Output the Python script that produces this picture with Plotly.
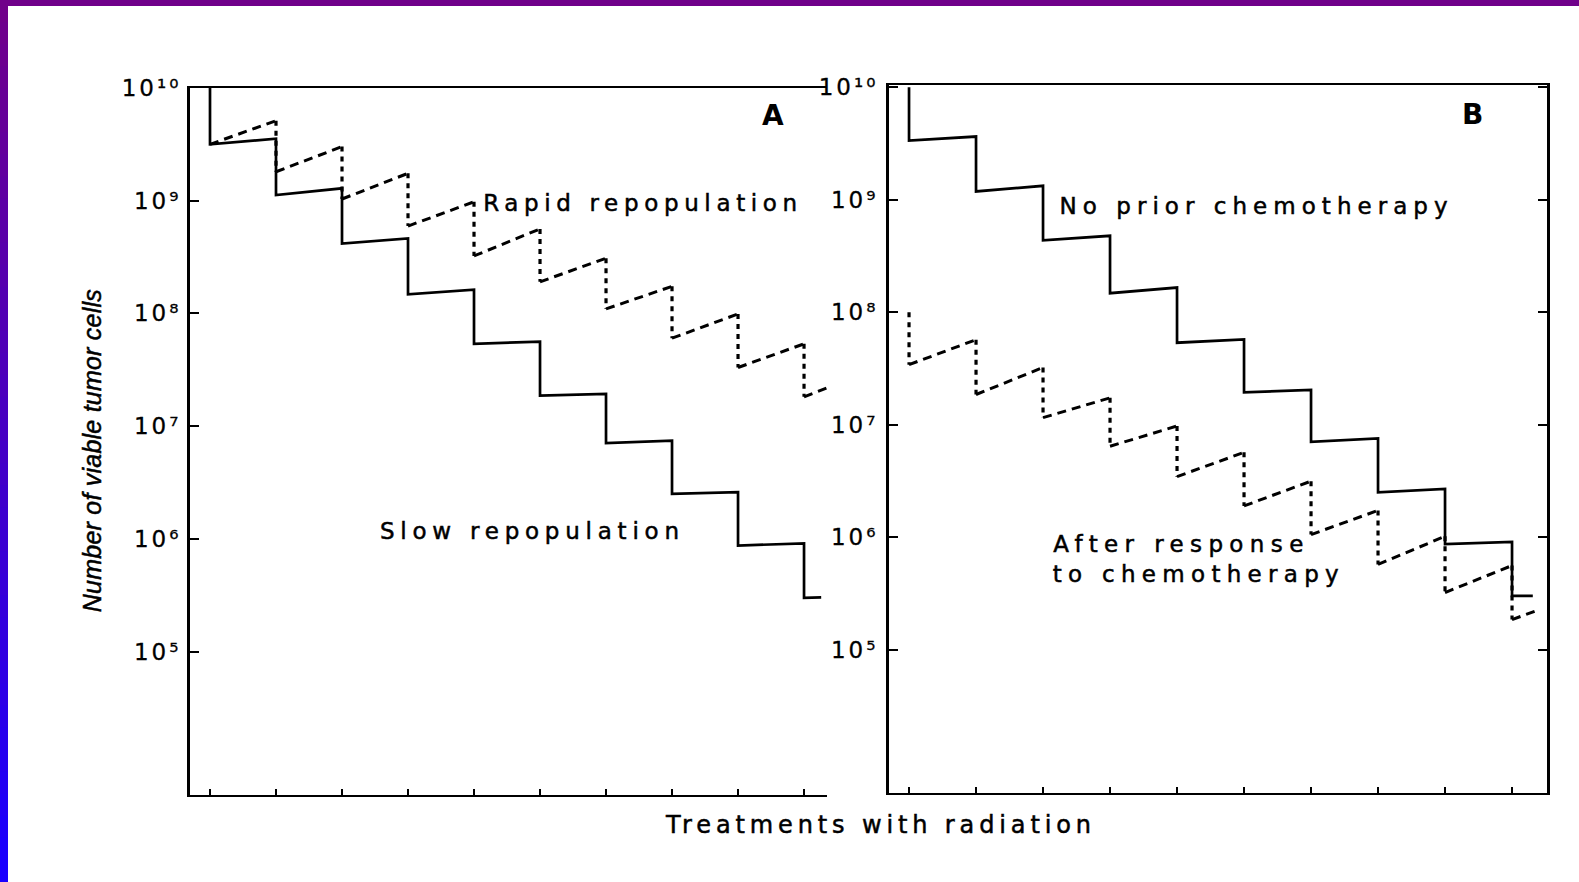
import json
import plotly.graph_objects as go

W, H = 1579, 882

# ---------------- data (log10 of number of viable tumor cells) ----------------
treatments = [1, 2, 3, 4, 5, 6, 7, 8, 9, 10]
ytick_vals = [1e5, 1e6, 1e7, 1e8, 1e9, 1e10]
ytick_text = ["10\u2075", "10\u2076", "10\u2077", "10\u2078", "10\u2079", "10\u00b9\u2070"]

# Panel A - slow repopulation (solid)
slow_pre = [10.0, 9.55, 9.11, 8.665, 8.21, 7.75, 7.285, 6.87, 6.415, 5.96]
slow_post = [9.50, 9.05, 8.62, 8.17, 7.73, 7.27, 6.85, 6.40, 5.94, 5.477]
slow_end = (10.26, 5.48)

# Panel A - rapid repopulation (dashed)
rapid_pre = [10.0, 9.71, 9.48, 9.243, 8.99, 8.75, 8.49, 8.24, 7.995, 7.73]
rapid_post = [9.50, 9.257, 9.015, 8.775, 8.51, 8.28, 8.04, 7.78, 7.52, 7.26]
rapid_end = (10.35, 7.34)

# Panel B - no prior chemotherapy (solid)
nochemo_pre = [10.0, 9.562, 9.124, 8.68, 8.22, 7.76, 7.31, 6.88, 6.43, 5.96]
nochemo_post = [9.527, 9.074, 8.64, 8.17, 7.73, 7.29, 6.85, 6.40, 5.94, 5.48]
nochemo_end = (10.31, 5.48)

# Panel B - after response to chemotherapy (dashed)
chemo_pre = [8.0, 7.757, 7.51, 7.24, 6.99, 6.756, 6.50, 6.24, 6.01, 5.75]
chemo_post = [7.535, 7.27, 7.064, 6.81, 6.54, 6.28, 6.025, 5.76, 5.51, 5.27]
chemo_end = (10.37, 5.35)


def staircase(pre, post, end):
    xs, ys = [], []
    for t, a, b in zip(treatments, pre, post):
        xs += [t, t]
        ys += [10 ** a, 10 ** b]
    xs.append(end[0])
    ys.append(10 ** end[1])
    return xs, ys


def sawtooth_parts(pre, post, end, skip_first_drop=False):
    """Returns (sloped segments, vertical drops) separated by None."""
    sx, sy, vx, vy = [], [], [], []
    n = len(treatments)
    for i in range(n):
        t = treatments[i]
        if not (skip_first_drop and i == 0):
            vx += [t, t, None]
            vy += [10 ** pre[i], 10 ** post[i], None]
        nx = treatments[i + 1] if i + 1 < n else end[0]
        ny = pre[i + 1] if i + 1 < n else end[1]
        sx += [t, nx, None]
        sy += [10 ** post[i], 10 ** ny, None]
    return sx, sy, vx, vy


fig = go.Figure()

SOLID = dict(color="black", width=2.7)
DASH = dict(color="black", width=3, dash="9px,6px")
DOT = dict(color="black", width=3.2, dash="5px,5px")

# Panel A
x, y = staircase(slow_pre, slow_post, slow_end)
fig.add_trace(go.Scatter(x=x, y=y, mode="lines", line=SOLID, xaxis="x", yaxis="y",
                         showlegend=False, hoverinfo="skip"))
sx, sy, vx, vy = sawtooth_parts(rapid_pre, rapid_post, rapid_end, skip_first_drop=True)
fig.add_trace(go.Scatter(x=sx, y=sy, mode="lines", line=DASH, xaxis="x", yaxis="y",
                         showlegend=False, hoverinfo="skip", connectgaps=False))
fig.add_trace(go.Scatter(x=vx, y=vy, mode="lines", line=DOT, xaxis="x", yaxis="y",
                         showlegend=False, hoverinfo="skip", connectgaps=False))

# Panel B
x, y = staircase(nochemo_pre, nochemo_post, nochemo_end)
fig.add_trace(go.Scatter(x=x, y=y, mode="lines", line=SOLID, xaxis="x2", yaxis="y2",
                         showlegend=False, hoverinfo="skip"))
sx, sy, vx, vy = sawtooth_parts(chemo_pre, chemo_post, chemo_end)
fig.add_trace(go.Scatter(x=sx, y=sy, mode="lines", line=DASH, xaxis="x2", yaxis="y2",
                         showlegend=False, hoverinfo="skip", connectgaps=False))
fig.add_trace(go.Scatter(x=vx, y=vy, mode="lines", line=DOT, xaxis="x2", yaxis="y2",
                         showlegend=False, hoverinfo="skip", connectgaps=False))

FONT = "DejaVu Sans, Liberation Sans, Arial, sans-serif"
TITLE_FONT = "Liberation Sans, Arial, Helvetica, sans-serif"

xcommon = dict(showline=True, linecolor="black", linewidth=2.2, mirror=True,
               ticks="inside", ticklen=6, tickwidth=2.4, tickcolor="black",
               tickvals=treatments, showticklabels=False, showgrid=False,
               zeroline=False, fixedrange=True)
ycommon = dict(type="log", showline=True, linecolor="black", linewidth=3,
               ticks="inside", ticklen=9, tickwidth=1.6, tickcolor="black",
               tickvals=ytick_vals, ticktext=ytick_text, showgrid=False,
               zeroline=False, fixedrange=True,
               tickfont=dict(family=FONT, size=23, color="black"))

fig.update_layout(
    width=W, height=H,
    margin=dict(l=0, r=0, t=0, b=0, autoexpand=False),
    paper_bgcolor="white", plot_bgcolor="white",
    xaxis=dict(domain=[190 / W, 827 / W], range=[0.697, 10.348], anchor="y", **xcommon),
    yaxis=dict(domain=[1 - 795 / H, 1 - 88 / H], range=[3.727, 10.0], anchor="x",
               ticklabelstandoff=1, **ycommon),
    xaxis2=dict(domain=[889 / W, 1547 / W], range=[0.701, 10.522], anchor="y2", **xcommon),
    yaxis2=dict(domain=[1 - 793 / H, 1 - 85 / H], range=[3.729, 10.02], anchor="x2",
                mirror="ticks", ticklabelstandoff=3, **ycommon),
)

# Purple / blue frame of the slide
shapes = [dict(type="rect", xref="paper", yref="paper", x0=0, x1=1,
               y0=1 - 6 / H, y1=1, fillcolor="#70008a", line=dict(width=0), layer="above")]
N = 40
c0 = (0x70, 0x00, 0x8a)
c1 = (0x1a, 0x00, 0xff)
for k in range(N):
    f = k / (N - 1)
    col = "rgb(%d,%d,%d)" % tuple(round(c0[j] + (c1[j] - c0[j]) * f) for j in range(3))
    shapes.append(dict(type="rect", xref="paper", yref="paper", x0=0, x1=8 / W,
                       y0=1 - (k + 1) / N - 0.002, y1=1 - k / N,
                       fillcolor=col, line=dict(width=0), layer="above"))
fig.update_layout(shapes=shapes)

# annotations: (text, x_px, y_px, size, target_width_px or None)
labels = [
    ("Rapid repopulation", 643, 203, 23, 314),
    ("Slow repopulation", 532, 531, 23, 299),
    ("No prior chemotherapy", 1256, 206, 23, 388),
    ("After response", 1181, 544, 23, 250),
    ("to chemotherapy", 1199, 574, 23, 286),
    ("Treatments with radiation", 880, 825, 24, 425),
]
annotations = []
targets = []
for text, xp, yp, size, tw in labels:
    annotations.append(dict(text=text, x=xp / W, y=1 - yp / H,
                            xref="paper", yref="paper",
                            xanchor="center", yanchor="middle", showarrow=False,
                            font=dict(family=FONT, size=size, color="black")))
    targets.append(tw)
for text, xp, yp in [("A", 773, 116), ("B", 1472, 114)]:
    annotations.append(dict(text="<b>%s</b>" % text, x=xp / W, y=1 - yp / H,
                            xref="paper", yref="paper", xanchor="center", yanchor="middle",
                            showarrow=False,
                            font=dict(family=FONT, size=28, color="black")))
    targets.append(None)
annotations.append(dict(text="<i>Number of viable tumor cells</i>", x=92 / W, y=1 - 451 / H,
                        xref="paper", yref="paper", xanchor="center", yanchor="middle",
                        showarrow=False, textangle=-90,
                        font=dict(family=TITLE_FONT, size=25, color="black")))
targets.append(323)
fig.update_layout(annotations=annotations)

js = """
(function(){
  document.body.style.margin = '0';
  var gd = document.getElementById('{plot_id}');
  var targets = TARGETS;
  gd.querySelectorAll('g.annotation').forEach(function(g){
    var i = +g.getAttribute('data-index');
    var w = targets[i];
    if (w === null || w === undefined) return;
    var t = g.querySelector('text.annotation-text');
    if (!t) return;
    t.style.letterSpacing = '0px';
    var nat = t.getComputedTextLength();
    var n = t.textContent.length;
    var s = (w - nat) / Math.max(n - 1, 1);
    t.style.letterSpacing = s + 'px';
    t.style.stroke = 'black';
    t.style.strokeWidth = '0.5px';
  });
  gd.querySelectorAll('g.ytick text, g.y2tick text').forEach(function(t){
    t.style.letterSpacing = '3px';
    t.style.stroke = 'black';
    t.style.strokeWidth = '0.3px';
  });
})();
""".replace("TARGETS", json.dumps(targets))

fig.write_html("out.html", post_script=js, config={"displayModeBar": False})
